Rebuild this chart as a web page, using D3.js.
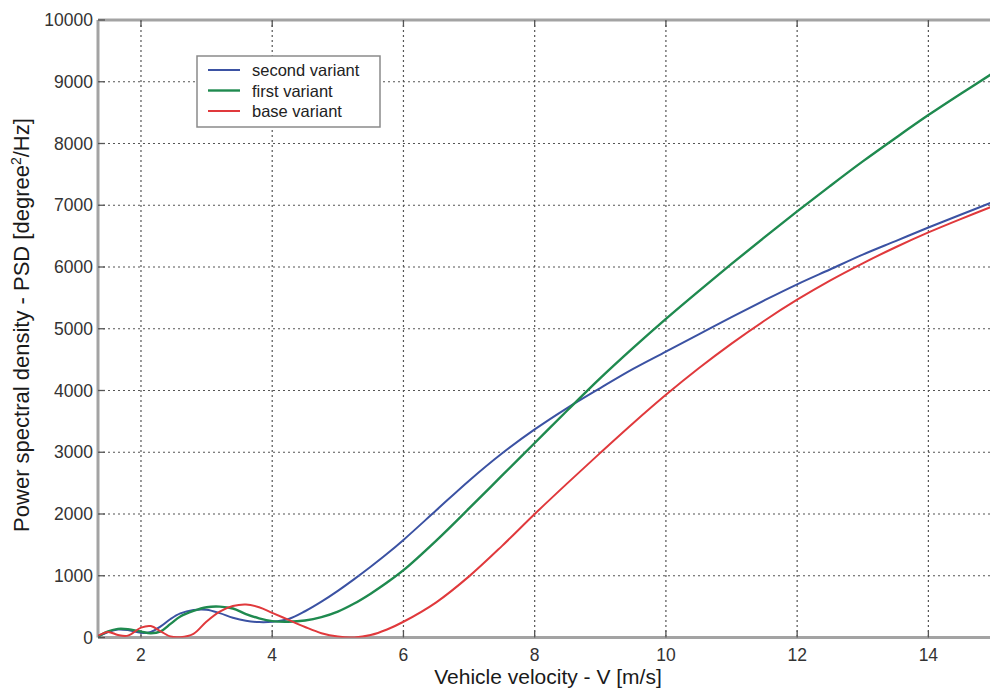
<!DOCTYPE html>
<html lang="en">
  <head>
    <meta charset="UTF-8" />
    <title>PSD vs vehicle velocity</title>
    <script src="https://d3js.org/d3.v7.min.js"></script>
    <style>
      body {
        margin: 0;
        background: #fff;
        font-family: "Liberation Sans", Arial, sans-serif;
      }
      svg {
        display: block;
      }
      .grid line {
        stroke: #555;
        stroke-width: 1.2;
        stroke-dasharray: 2, 3;
      }
      .tick-label {
        font-size: 17.5px;
        fill: #333;
      }
      .axis-label {
        font-size: 21px;
        fill: #1a1a1a;
      }
      .legend text {
        font-size: 16.5px;
        fill: #222;
      }
    </style>
  </head>
  <body>
    <svg id="chart" width="990" height="689"></svg>

    <script>
      // velocity samples [m/s]
      const velocity = [
        1.35, 1.5, 1.65, 1.8, 2.0, 2.15, 2.3, 2.45, 2.6, 2.8, 3.0, 3.2, 3.4,
        3.6, 3.8, 4.0, 4.25, 4.5, 4.75, 5.0, 5.25, 5.5, 5.75, 6.0, 6.5, 7.0,
        7.5, 8.0, 8.5, 9.0, 9.5, 10, 10.5, 11, 11.5, 12, 12.5, 13, 13.5, 14,
        14.5, 15,
      ];

      // PSD values
      const secondVariant = [
        20, 90, 130, 120, 75, 90, 180, 300, 390, 445, 450, 395, 320, 270, 250,
        255, 300, 425, 580, 755, 945, 1145, 1355, 1580, 2060, 2540, 2980, 3370,
        3720, 4040, 4350, 4630, 4910, 5190, 5460, 5720, 5960, 6200, 6420, 6640,
        6850, 7060,
      ];
      const firstVariant = [
        20, 100, 140, 135, 95, 70, 100, 220, 340, 430, 490, 500, 470, 380, 310,
        265, 255, 275, 330, 420, 550, 710, 890, 1090, 1570, 2090, 2620, 3150,
        3680, 4200, 4690, 5160, 5610, 6050, 6480, 6900, 7310, 7710, 8090, 8460,
        8810, 9150,
      ];
      const baseVariant = [
        30, 90, 40, 30, 160, 185, 100, 15, 5, 60, 260, 420, 510, 535, 490, 400,
        285, 170, 70, 15, 2, 40, 130, 255, 570, 990, 1480, 2000, 2500, 2990,
        3470, 3930, 4360, 4760, 5130, 5470, 5780, 6060, 6320, 6560, 6780, 6990,
      ];

      const xTicks = [2, 4, 6, 8, 10, 12, 14];
      const yTicks = [0, 1000, 2000, 3000, 4000, 5000, 6000, 7000, 8000, 9000, 10000];

      const series = [
        { name: "second variant", values: secondVariant, color: "#3b52a3", width: 2 },
        { name: "first variant", values: firstVariant, color: "#1f8a4f", width: 2.4 },
        { name: "base variant", values: baseVariant, color: "#e0393c", width: 2 },
      ];

      const box = { left: 98, right: 994, top: 20, bottom: 637.5 };

      const x = d3.scaleLinear().domain([1.345, 15]).range([box.left, box.right]);
      const y = d3.scaleLinear().domain([0, 10000]).range([box.bottom, box.top]);

      const svg = d3.select("#chart");

      svg
        .append("defs")
        .append("clipPath")
        .attr("id", "plot-clip")
        .append("rect")
        .attr("x", box.left)
        .attr("y", box.top)
        .attr("width", box.right - box.left)
        .attr("height", box.bottom - box.top);

      // dotted grid
      const grid = svg.append("g").attr("class", "grid");
      grid
        .selectAll(".vx")
        .data(xTicks)
        .join("line")
        .attr("x1", (d) => x(d))
        .attr("x2", (d) => x(d))
        .attr("y1", box.top)
        .attr("y2", box.bottom);
      grid
        .selectAll(".hy")
        .data(yTicks.filter((d) => d > 0 && d < 10000))
        .join("line")
        .attr("x1", box.left)
        .attr("x2", box.right)
        .attr("y1", (d) => y(d))
        .attr("y2", (d) => y(d));

      // frame
      const frame = svg.append("g").attr("stroke", "#a3a3a3").attr("stroke-width", 3);
      frame.append("line").attr("x1", box.left).attr("x2", box.right).attr("y1", box.top).attr("y2", box.top);
      frame.append("line").attr("x1", box.left).attr("x2", box.right).attr("y1", box.bottom).attr("y2", box.bottom);
      frame.append("line").attr("x1", box.left).attr("x2", box.left).attr("y1", box.top).attr("y2", box.bottom);

      // small inward ticks
      const ticks = svg.append("g").attr("stroke", "#555").attr("stroke-width", 1.3);
      xTicks.forEach((t) => {
        ticks.append("line").attr("x1", x(t)).attr("x2", x(t)).attr("y1", box.bottom).attr("y2", box.bottom - 7);
        ticks.append("line").attr("x1", x(t)).attr("x2", x(t)).attr("y1", box.top).attr("y2", box.top + 7);
      });
      yTicks.forEach((t) => {
        ticks.append("line").attr("x1", box.left).attr("x2", box.left + 7).attr("y1", y(t)).attr("y2", y(t));
      });

      // tick labels
      svg
        .selectAll(".xl")
        .data(xTicks)
        .join("text")
        .attr("class", "tick-label")
        .attr("x", (d) => x(d))
        .attr("y", 661)
        .attr("text-anchor", "middle")
        .text((d) => d);
      svg
        .selectAll(".yl")
        .data(yTicks)
        .join("text")
        .attr("class", "tick-label")
        .attr("x", 93)
        .attr("y", (d) => y(d) + 6)
        .attr("text-anchor", "end")
        .text((d) => d);

      // curves
      const line = d3
        .line()
        .x((d, i) => x(velocity[i]))
        .y((d) => y(d))
        .curve(d3.curveCatmullRom.alpha(0.5));

      const plot = svg.append("g").attr("clip-path", "url(#plot-clip)");
      plot
        .selectAll("path")
        .data(series)
        .join("path")
        .attr("fill", "none")
        .attr("stroke", (d) => d.color)
        .attr("stroke-width", (d) => d.width)
        .attr("d", (d) => line(d.values));

      // axis titles
      svg
        .append("text")
        .attr("class", "axis-label")
        .attr("x", 548)
        .attr("y", 684)
        .attr("text-anchor", "middle")
        .text("Vehicle velocity - V [m/s]");

      const yl = svg
        .append("text")
        .attr("class", "axis-label")
        .style("font-size", "22px")
        .attr("transform", "translate(29,325) rotate(-90)")
        .attr("text-anchor", "middle");
      yl.append("tspan").text("Power spectral density - PSD [degree");
      yl.append("tspan").attr("dy", -8).style("font-size", "14px").text("2");
      yl.append("tspan").attr("dy", 8).text("/Hz]");

      // legend
      const legend = svg.append("g").attr("class", "legend");
      legend
        .append("rect")
        .attr("x", 197)
        .attr("y", 56)
        .attr("width", 183)
        .attr("height", 71)
        .attr("fill", "#fff")
        .attr("stroke", "#8a8a8a")
        .attr("stroke-width", 1.5);
      series.forEach((s, i) => {
        const ly = 70 + i * 20.5;
        legend
          .append("line")
          .attr("x1", 208)
          .attr("x2", 240)
          .attr("y1", ly)
          .attr("y2", ly)
          .attr("stroke", s.color)
          .attr("stroke-width", s.width);
        legend
          .append("text")
          .attr("x", 252)
          .attr("y", ly + 6)
          .text(s.name);
      });
    </script>
  </body>
</html>
